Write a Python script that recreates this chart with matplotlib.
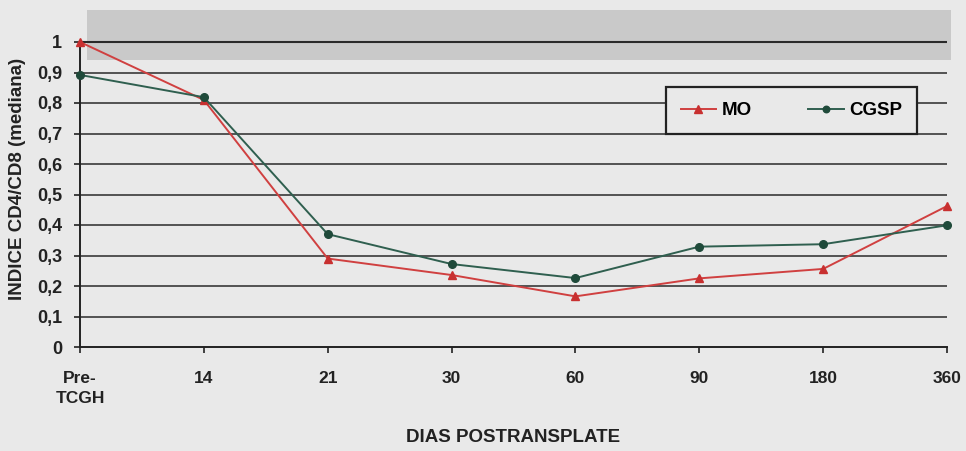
import matplotlib
matplotlib.use("Agg")
import matplotlib.pyplot as plt
from matplotlib.patches import Rectangle

categories = ["Pre-\nTCGH", "14", "21", "30", "60", "90", "180", "360"]
mo = [1.00, 0.81, 0.29, 0.236, 0.166, 0.225, 0.256, 0.462]
cgsp = [0.892, 0.819, 0.37, 0.272, 0.226, 0.329, 0.337, 0.399]
yticks = [0, 0.1, 0.2, 0.3, 0.4, 0.5, 0.6, 0.7, 0.8, 0.9, 1.0]
ytick_labels = ["0", "0,1", "0,2", "0,3", "0,4", "0,5", "0,6", "0,7", "0,8", "0,9", "1"]

plt.rcParams['font.family'] = ['Liberation Sans', 'DejaVu Sans']
plt.rcParams['font.weight'] = 'bold'

W, H = 966, 451
bg = '#e9e9e9'
fig = plt.figure(figsize=(W / 100, H / 100), dpi=100, facecolor=bg)
left, right, y0px, y1px = 80, 947, 347, 42
ymax = 1.12
ax_h = (y0px - y1px) * ymax
ax = fig.add_axes([left / W, 1 - y0px / H, (right - left) / W, ax_h / H])
ax.set_facecolor(bg)

x = list(range(len(categories)))
ax.set_xlim(0, len(categories) - 1)
ax.set_ylim(0, ymax)

# gray band
ax.add_patch(Rectangle((0.06, 0.94), len(categories) - 1 - 0.06 + 0.03, 0.165,
                       facecolor='#c9c9c9', edgecolor='none', zorder=0, clip_on=False))

for yv in yticks[1:]:
    ax.axhline(yv, color='#2a2a2a', lw=1.5 if yv == 1.0 else 1.1, zorder=1)

ax.plot(x, mo, color='#d04040', lw=1.4, marker='^', ms=6, mfc='#c83030', mec='#c83030',
        label='MO', zorder=3, clip_on=False)
ax.plot(x, cgsp, color='#2f5f4f', lw=1.4, marker='o', ms=5.5, mfc='#1f4a3a', mec='#1f4a3a',
        label='CGSP', zorder=3, clip_on=False)

for s in ['top', 'right']:
    ax.spines[s].set_visible(False)
ax.spines['left'].set_bounds(0, 1)
ax.spines['left'].set_color('#222222')
ax.spines['bottom'].set_color('#222222')
ax.spines['left'].set_linewidth(1.4)
ax.spines['bottom'].set_linewidth(1.4)

ax.set_yticks(yticks)
ax.set_yticklabels(ytick_labels, fontsize=13, fontweight='bold', color='#222222')
ax.set_xticks(x)
ax.set_xticklabels(categories, fontsize=12.5, fontweight='bold', color='#222222')
ax.tick_params(axis='y', length=4, width=1.2, pad=9, colors='#222222')
ax.tick_params(axis='x', length=4, width=1.2, pad=13, colors='#222222')
for lab in ax.get_xticklabels():
    lab.set_linespacing(1.45)

fig.text(513 / W, 1 - 438 / H, 'DIAS POSTRANSPLATE', ha='center', va='center',
         fontsize=13.5, fontweight='bold', color='#222222')
fig.text(18 / W, 1 - 179 / H, 'INDICE CD4/CD8 (mediana)', ha='center', va='center',
         rotation=90, fontsize=13.5, fontweight='bold', color='#222222')

leg = ax.legend(loc='center', bbox_to_anchor=(791.5 / W, 1 - 110.5 / H),
                bbox_transform=fig.transFigure, ncol=2, frameon=True, fancybox=False,
                edgecolor='#222222', facecolor=bg, framealpha=1,
                prop={'family': 'Liberation Sans', 'weight': 'bold', 'size': 13.5},
                handlelength=1.9, columnspacing=3.0, borderpad=0.8, handletextpad=0.3,
                borderaxespad=0, markerscale=0.85)
leg.get_frame().set_linewidth(1.6)
leg.set_zorder(5)

fig.savefig('out.png', dpi=100, facecolor=bg)
